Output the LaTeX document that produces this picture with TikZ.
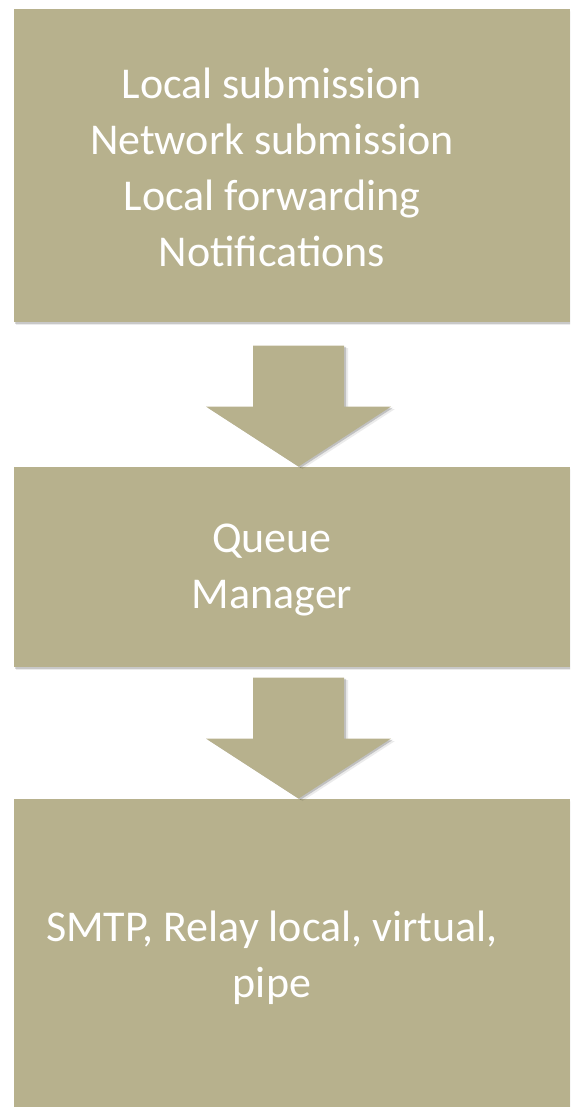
\documentclass[tikz,border=0pt]{standalone}
\usepackage{fontspec}
\setmainfont{Carlito}
\usepackage{tikz}
\usetikzlibrary{positioning,calc,shadows}
\definecolor{boxtan}{RGB}{183,177,141}

\begin{document}
\begin{tikzpicture}[
    x=0.5pt, y=-0.5pt,
    stage/.style={rectangle, fill=boxtan, inner sep=0pt, minimum width=278pt,
      drop shadow={shadow xshift=0.5pt, shadow yshift=-0.8pt, fill=black, opacity=0.15},
      drop shadow={shadow xshift=1.2pt, shadow yshift=-1.6pt, fill=black, opacity=0.08}},
    stage_text/.style={font=\fontsize{22}{28}\selectfont, text=white, align=center},
    flow/.style={fill=boxtan,
      drop shadow={shadow xshift=1pt, shadow yshift=-0.6pt, fill=black, opacity=0.18},
      drop shadow={shadow xshift=2pt, shadow yshift=-1.2pt, fill=black, opacity=0.08}}
]
\useasboundingbox (0,0) rectangle (570,1107);
\clip (0,0) rectangle (570,1107);

% Stages
\node[stage, minimum height=156.5pt] (feed) at (292,165.5) {};
\node[stage, minimum height=100pt] (queue) at (292,567) {};
\node[stage, minimum height=154pt] (deliver) at (292,953) {};

% Texts
\node[stage_text] (feedtext) at (272,167) {Local submission\\Network submission\\Local forwarding\\Notifications};
\node[stage_text] (queuetext) at (272,570) {Queue\\Manager};
\node[stage_text] (delivertext) at (272,958) {SMTP, Relay local, virtual,\\pipe};

% Block arrows
\foreach \b in {queue, deliver}
  \fill[flow] ($(\b.north)+(6.5,0)$) -- ++(92.5,-60) -- ++(-47,0) -- ++(0,-61) -- ++(-91,0)
    -- ++(0,61) -- ++(-47,0) -- cycle;
\end{tikzpicture}
\end{document}
